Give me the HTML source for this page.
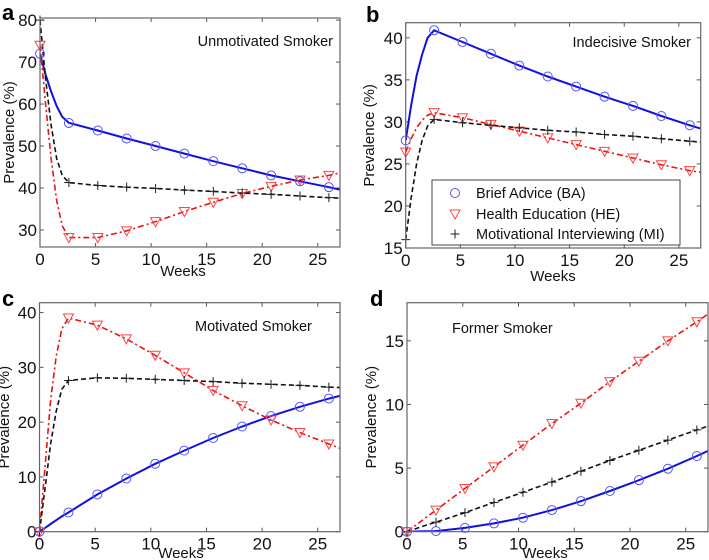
<!DOCTYPE html>
<html><head><meta charset="utf-8">
<style>
html,body{margin:0;padding:0;background:#fff;}
svg{display:block;font-family:"Liberation Sans",Arial,sans-serif;}
</style></head>
<body>
<svg id="fig" width="709" height="560" viewBox="0 0 709 560" xmlns="http://www.w3.org/2000/svg"></svg>
<script>
const weeks = [0,0.5,1,1.5,2,2.6,5.2,7.8,10.4,13,15.6,18.2,20.8,23.4,26,27];
const markerWeeks = [0,2.6,5.2,7.8,10.4,13,15.6,18.2,20.8,23.4,26];
const xTicks = [0,5,10,15,20,25];

const aBA = [72,67,63,59.5,57,55.5,53.7,51.8,50,48.2,46.4,44.7,43,41.6,40.2,39.6];
const aHE = [74,60,47,37,31,28.2,28.2,29.8,32,34.4,36.6,38.7,40.4,41.9,43,43.6];
const aMI = [80,66,55,47,43,41.3,40.6,40.2,39.9,39.5,39.2,38.8,38.5,38.1,37.7,37.6];
const aTicks = [30,40,50,60,70,80];

const bBA = [27.8,32,35.5,38,40,40.9,39.5,38.1,36.7,35.4,34.2,33,31.9,30.7,29.6,29.2];
const bHE = [26.4,28,29.3,30.2,30.8,31.1,30.5,29.7,28.9,28.1,27.3,26.5,25.7,24.9,24.2,24];
const bMI = [16,21,25,27.8,29.5,30.3,29.9,29.6,29.3,29,28.8,28.5,28.3,28,27.7,27.6];
const bTicks = [15,20,25,30,35,40];

const cBA = [0,0.7,1.4,2.1,2.8,3.5,6.8,9.7,12.4,14.8,17.1,19.2,21.1,22.8,24.3,24.8];
const cHE = [0,12,24,32,37,39,37.7,35.2,32.2,29,25.8,23,20.4,18.1,16,15.2];
const cMI = [0,8,16,22,26,27.6,28.1,28,27.8,27.6,27.4,27.1,26.9,26.7,26.4,26.3];
const cTicks = [0,10,20,30,40];

const dBA = [0,0.01,0.02,0.03,0.04,0.05,0.3,0.65,1.1,1.7,2.4,3.2,4.05,4.95,5.95,6.35];
const dHE = [0,0.33,0.65,0.98,1.3,1.7,3.4,5.1,6.8,8.5,10.1,11.8,13.4,15,16.5,17.1];
const dMI = [0,0.15,0.3,0.45,0.6,0.75,1.5,2.3,3.1,3.9,4.75,5.6,6.4,7.2,8,8.3];
const dTicks = [0,5,10,15];

const NS='http://www.w3.org/2000/svg';
const svg=document.getElementById('fig');
function mk(tag,attrs,parent){const e=document.createElementNS(NS,tag);for(const k in attrs)e.setAttribute(k,attrs[k]);(parent||svg).appendChild(e);return e;}

const panels=[
 {id:'a',L:40,R:340,T:18,B:247,y0:25.95,y1:80.5,ticks:aTicks,s:[aBA,aHE,aMI],title:'Unmotivated Smoker',tx:333,ty:46,anchor:'end',lx:2,ly:20,ytx:14,wx:183,wy:276},
 {id:'b',L:405.7,R:700.7,T:22.7,B:248,y0:15,y1:41.8,ticks:bTicks,s:[bBA,bHE,bMI],title:'Indecisive Smoker',tx:691,ty:47,anchor:'end',lx:366,ly:22,ytx:374,wx:553,wy:281},
 {id:'c',L:39.5,R:340,T:302.7,B:531.7,y0:0,y1:41.8,ticks:cTicks,s:[cBA,cHE,cMI],title:'Motivated Smoker',tx:195,ty:331,anchor:'start',lx:2,ly:306,ytx:9,wx:181,wy:558},
 {id:'d',L:407,R:708,T:302.7,B:531.7,y0:0,y1:18,ticks:dTicks,s:[dBA,dHE,dMI],title:'Former Smoker',tx:452,ty:333,anchor:'start',lx:370,ly:306,ytx:376,wx:545,wy:558}
];
const sNames=['ba','he','mi'];
const sColor=['#1010e0','#ee1111','#111111'];
const mColor=['#5555ff','#ff4444','#222222'];
const dash=['none','6 3 2 3','5 3'];

panels.forEach(p=>{
 const g=mk('g',{});
 
 
 const xs=v=>p.L+(v-0)/(27-0)*(p.R-p.L);
 const ys=v=>p.B-(v-p.y0)/(p.y1-p.y0)*(p.B-p.T);
 const cp=mk('clipPath',{id:'clip'+p.id},g);
 mk('rect',{x:p.L,y:p.T,width:p.R-p.L,height:p.B-p.T},cp);
 xTicks.forEach(t=>{
  const x=xs(t);
  mk('line',{x1:x,y1:p.B,x2:x,y2:p.B-4,stroke:'#555','stroke-width':1},g);
  mk('line',{x1:x,y1:p.T,x2:x,y2:p.T+4,stroke:'#555','stroke-width':1},g);
  const tl=mk('text',{x:x,y:p.B+18,'font-size':17,'text-anchor':'middle',fill:'#111'},g);
  
  
  tl.textContent=t;
 });
 p.ticks.forEach(t=>{
  const y=ys(t);
  mk('line',{x1:p.L,y1:y,x2:p.L+4,y2:y,stroke:'#555','stroke-width':1},g);
  mk('line',{x1:p.R,y1:y,x2:p.R-4,y2:y,stroke:'#555','stroke-width':1},g);
  const tl=mk('text',{x:p.L-3,y:y+6,'font-size':17,'text-anchor':'end',fill:'#111'},g);
  
  
  tl.textContent=t;
 });
 const sg=mk('g',{'clip-path':'url(#clip'+p.id+')'},g);
 p.s.forEach((vals,si)=>{
  const d=vals.map((v,i)=>(i?'L':'M')+xs(weeks[i]).toFixed(1)+','+ys(v).toFixed(1)).join(' ');
  const ln=mk('path',{d:d,fill:'none',stroke:sColor[si],'stroke-width':si==0?2:1.6,'stroke-dasharray':dash[si]},sg);
  
  
 });
 p.s.forEach((vals,si)=>{
  vals.forEach((v,i)=>{
   if(markerWeeks.indexOf(weeks[i])<0)return;
   const x=xs(weeks[i]),y=ys(v);
   let m;
   if(si==0)m=mk('circle',{cx:x,cy:y,r:4.5,fill:'none',stroke:mColor[0],'stroke-width':1},g);
   else if(si==1)m=mk('path',{d:`M${x-5},${y-4} L${x+5},${y-4} L${x},${y+5} Z`,fill:'none',stroke:mColor[1],'stroke-width':1},g);
   else m=mk('path',{d:`M${x-4.5},${y} L${x+4.5},${y} M${x},${y-4.5} L${x},${y+4.5}`,fill:'none',stroke:mColor[2],'stroke-width':1},g);
   
   
  });
 });
 const fr=mk('rect',{x:p.L,y:p.T,width:p.R-p.L,height:p.B-p.T,fill:'none',stroke:'#666','stroke-width':1.2},g);
 
 
 const ti=mk('text',{x:p.tx,y:p.ty,'font-size':14.5,'text-anchor':p.anchor,fill:'#111'},g);
 
 
 ti.textContent=p.title;
 const le=mk('text',{x:p.lx,y:p.ly,'font-size':22,'font-weight':'bold',fill:'#000'},g);
 
 
 le.textContent=p.id;
 const yt=mk('text',{x:p.ytx,y:(p.T+p.B)/2,'font-size':15,'text-anchor':'middle',fill:'#111',transform:`rotate(-90 ${p.ytx} ${(p.T+p.B)/2})`},g);
 
 
 yt.textContent='Prevalence (%)';
 const xt=mk('text',{x:p.wx,y:p.wy,'font-size':15,'text-anchor':'middle',fill:'#111'},g);
 
 
 xt.textContent='Weeks';
});

const lg=mk('g',{});


mk('rect',{x:432,y:180,width:248,height:65,fill:'#fff',stroke:'#444','stroke-width':1},lg);
const legNames=['Brief Advice (BA)','Health Education (HE)','Motivational Interviewing (MI)'];
[193,214,234].forEach((y,i)=>{
 const x=455;
 let m;
 if(i==0)m=mk('circle',{cx:x,cy:y,r:4.5,fill:'none',stroke:mColor[0]},lg);
 else if(i==1)m=mk('path',{d:`M${x-5},${y-4} L${x+5},${y-4} L${x},${y+5} Z`,fill:'none',stroke:mColor[1]},lg);
 else m=mk('path',{d:`M${x-4.5},${y} L${x+4.5},${y} M${x},${y-4.5} L${x},${y+4.5}`,fill:'none',stroke:mColor[2]},lg);
 
 
 const t=mk('text',{x:476,y:y+5,'font-size':14.5,fill:'#111'},lg);
 
 
 t.textContent=legNames[i];
});
</script>
</body></html>
